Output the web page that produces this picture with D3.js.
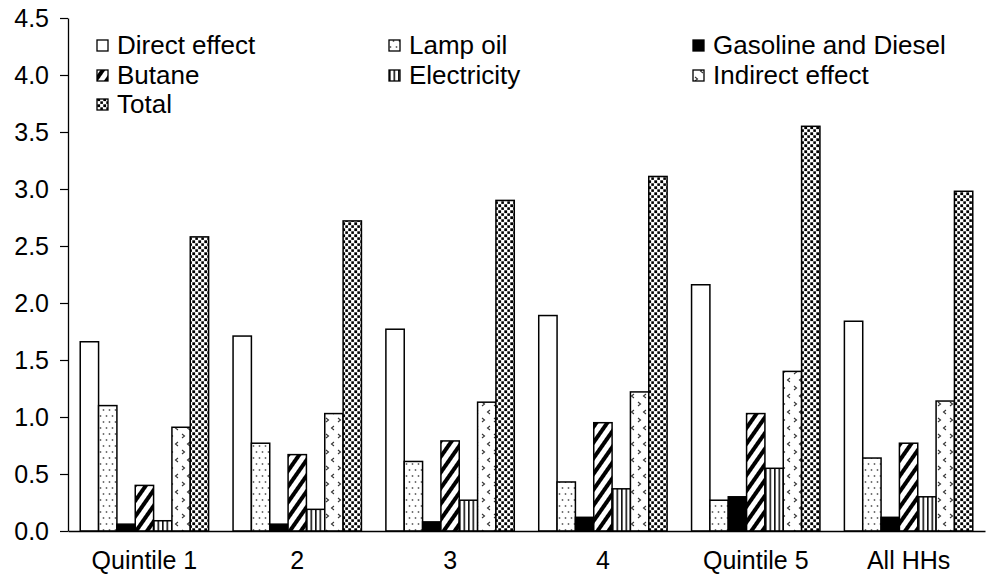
<!DOCTYPE html>
<html><head><meta charset="utf-8">
<script src="https://cdn.jsdelivr.net/npm/d3@7"></script>
<style>body{margin:0;background:#fff}svg{display:block;font-family:"Liberation Sans",Arial,sans-serif}</style>
</head><body><svg id="c" width="987" height="577"></svg>
<script>
const categories = ["Quintile 1","2","3","4","Quintile 5","All HHs"];
const seriesNames = ["Direct effect","Lamp oil","Gasoline and Diesel","Butane","Electricity","Indirect effect","Total"];
const directEffect = [1.66,1.71,1.77,1.89,2.16,1.84];
const lampOil = [1.10,0.77,0.61,0.43,0.27,0.64];
const gasolineDiesel = [0.06,0.06,0.08,0.12,0.30,0.12];
const butane = [0.40,0.67,0.79,0.95,1.03,0.77];
const electricity = [0.09,0.19,0.27,0.37,0.55,0.30];
const indirectEffect = [0.91,1.03,1.13,1.22,1.40,1.14];
const total = [2.58,2.72,2.90,3.11,3.55,2.98];
const yTicks = [0,0.5,1.0,1.5,2.0,2.5,3.0,3.5,4.0,4.5];
const seriesValues = [directEffect,lampOil,gasolineDiesel,butane,electricity,indirectEffect,total];

const svg = d3.select("#c");
const m = {left:68, right:985, top:18, bottom:531};
const defs = svg.append("defs");
const FS = 26, FSY = 25, FSX = 25;

function pat(id,w,h){return defs.append("pattern").attr("id",id).attr("patternUnits","userSpaceOnUse").attr("width",w).attr("height",h);}
let p;
p = pat("pLamp",6,12); p.append("rect").attr("width",6).attr("height",12).attr("fill","#fff");
p.append("circle").attr("cx",1.5).attr("cy",2).attr("r",0.9).attr("fill","#666");
p.append("circle").attr("cx",4.5).attr("cy",8).attr("r",0.9).attr("fill","#666");
p = pat("pButane",9,9).attr("patternTransform","rotate(35)"); p.append("rect").attr("width",9).attr("height",9).attr("fill","#fff");
p.append("rect").attr("x",0).attr("width",4).attr("height",9).attr("fill","#000");
p = pat("pElec",4.5,10); p.append("rect").attr("width",4.5).attr("height",10).attr("fill","#fff");
p.append("rect").attr("x",0).attr("width",1.6).attr("height",10).attr("fill","#111");
p = pat("pInd",12,16); p.append("rect").attr("width",12).attr("height",16).attr("fill","#fff");
p.append("path").attr("d","M2,2 L4.5,4 L2,6").attr("fill","none").attr("stroke","#333").attr("stroke-width",1.1);
p.append("path").attr("d","M10,10 L7.5,12 L10,14").attr("fill","none").attr("stroke","#333").attr("stroke-width",1.1);
p = pat("pTotal",6,6); p.append("rect").attr("width",6).attr("height",6).attr("fill","#fff");
p.append("rect").attr("x",0.3).attr("y",0.3).attr("width",2.8).attr("height",2.8).attr("fill","#000");
p.append("rect").attr("x",3.3).attr("y",3.3).attr("width",2.6).attr("height",2.6).attr("fill","#000");
const fills = ["#fff","url(#pLamp)","#000","url(#pButane)","url(#pElec)","url(#pInd)","url(#pTotal)"];

const x0 = d3.scaleBand().domain(categories).range([m.left,m.right]).paddingInner(0.16).paddingOuter(0.08);
const x1 = d3.scaleBand().domain(d3.range(7)).range([0,x0.bandwidth()]);
const y = d3.scaleLinear().domain([0,4.5]).range([m.bottom,m.top]);

const g = svg.append("g");
categories.forEach((c,ci)=>{
  seriesValues.forEach((vals,si)=>{
    g.append("rect").attr("x",x0(c)+x1(si)).attr("y",y(vals[ci]))
     .attr("width",x1.bandwidth()).attr("height",y(0)-y(vals[ci]))
     .attr("fill",fills[si]).attr("stroke","#000").attr("stroke-width",1.5);
  });
});

const ya = svg.append("g").attr("transform",`translate(${m.left},0)`)
  .call(d3.axisLeft(y).tickValues(yTicks).tickFormat(d3.format(".1f")).tickSize(8).tickSizeOuter(0));
ya.select(".domain").attr("stroke","#000").attr("stroke-width",1.3);
ya.selectAll(".tick line").attr("stroke","#000").attr("stroke-width",1.2);
ya.selectAll("text").attr("font-size",FSY).attr("fill","#000").attr("x",-19).attr("font-family","Liberation Sans, Arial, sans-serif");

const xa = svg.append("g").attr("transform",`translate(0,${m.bottom})`)
  .call(d3.axisBottom(x0).tickSize(0).tickSizeOuter(0));
xa.select(".domain").attr("stroke","#000").attr("stroke-width",1.5);
xa.selectAll("text").attr("font-size",FSX).attr("fill","#000").attr("dy","0.71em").attr("y",20).attr("font-family","Liberation Sans, Arial, sans-serif");

const legCols=[97,389,693], legRows=[45,75,104];
seriesNames.forEach((n,i)=>{
  const col=i%3,row=Math.floor(i/3);
  const lg=svg.append("g").attr("transform",`translate(${legCols[col]},${legRows[row]})`);
  lg.append("rect").attr("x",0).attr("y",-5).attr("width",11).attr("height",11).attr("fill",fills[i]).attr("stroke","#000").attr("stroke-width",1.3);
  lg.append("text").attr("x",20).attr("y",0).attr("dy","0.35em").attr("font-size",FS).text(n);
});
</script></body></html>
